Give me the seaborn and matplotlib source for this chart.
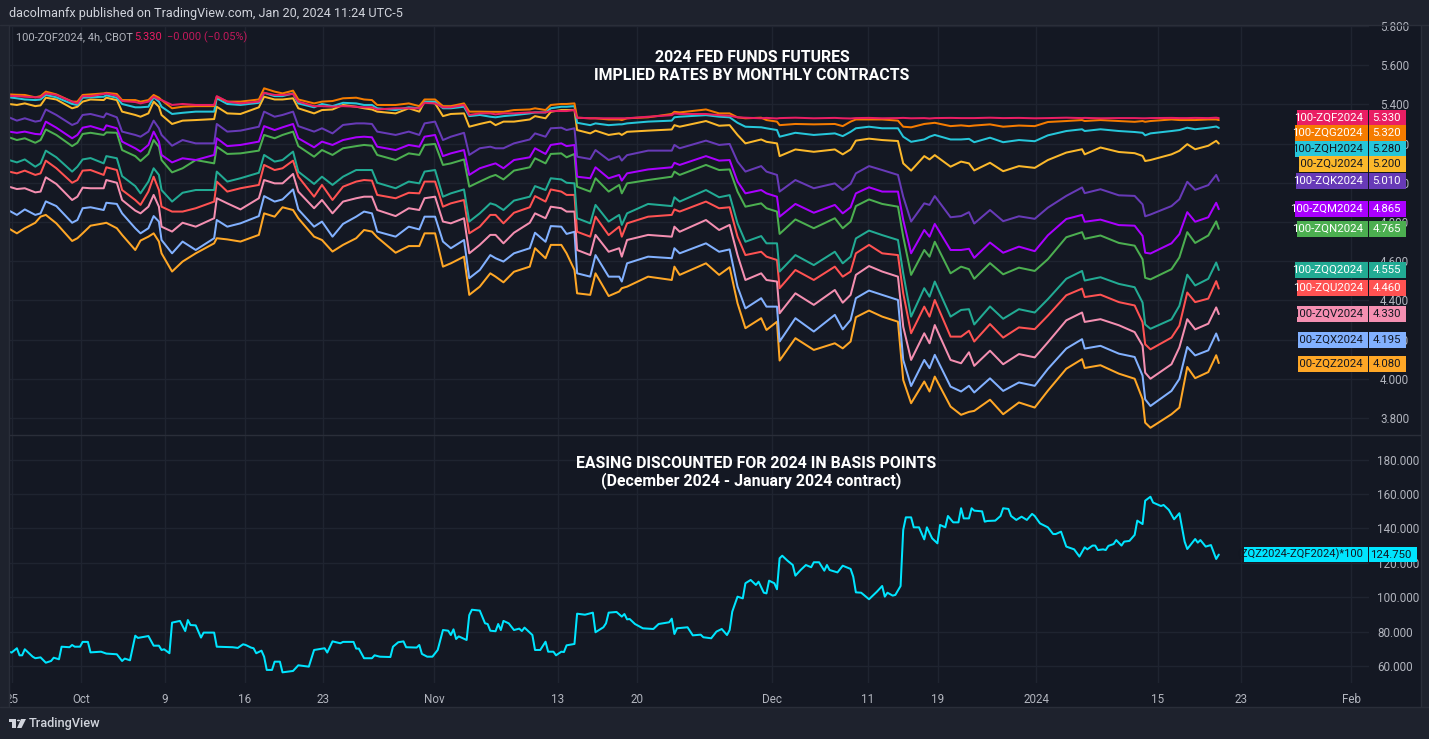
import seaborn as sns
import matplotlib.pyplot as plt
import pandas as pd
from matplotlib.patches import Rectangle, Polygon, Circle
from matplotlib.transforms import Bbox, IdentityTransform, TransformedBbox

# 4h bar number of every reading, bar 0 is the first one on the chart
bars = [0,3,6,10,12,14,18,24,26,28,31,36,37,41,43,48,50,53,55,57,58,62,66,71,78,79,83,88,95,97,101,104,108,110,116,119,123,127,132,135,138,140,147,152,156,158,162,165,168,173,175,179,
        183,185,188,192,198,200,204,206,210,212,215,216,221,223,228,232,233,235,243,252,253,255,265,270,274,277,280,286,288,292,293,299,306,314,317,320,322,327,332,338,340,343,348,350,352,358,362,
        365,367,373,378,384,390,395,402,408,409,415,422,428,431,432,434,442,445,448,451,456,459,460]

zqf = [5.444,5.442,5.439,5.436,5.436,5.456,5.448,5.414,5.405,5.442,5.442,5.453,5.456,5.444,5.417,5.412,5.405,5.414,5.439,5.425,5.422,5.397,5.402,5.397,5.397,5.442,5.414,5.405,5.414,5.459,5.448,5.448,5.453,5.414,5.391,5.391,5.388,5.391,5.388,5.385,5.385,5.374,5.380,5.380,5.380,5.408,5.405,5.385,5.385,5.397,5.346,5.354,
       5.354,5.349,5.354,5.354,5.359,5.359,5.359,5.366,5.366,5.366,5.371,5.332,5.329,5.329,5.329,5.329,5.329,5.329,5.337,5.345,5.354,5.351,5.351,5.345,5.342,5.334,5.332,5.329,5.331,5.328,5.33,5.332,5.329,5.331,5.329,5.328,5.33,5.331,5.329,5.33,5.331,5.329,5.33,5.328,5.33,5.331,5.33,
       5.33,5.33,5.332,5.33,5.331,5.329,5.33,5.332,5.33,5.331,5.329,5.33,5.33,5.329,5.329,5.33,5.331,5.33,5.33,5.331,5.33,5.332,5.33]
zqg = [5.451,5.449,5.448,5.436,5.442,5.465,5.451,5.414,5.414,5.448,5.451,5.456,5.459,5.453,5.422,5.422,5.414,5.422,5.448,5.434,5.422,5.380,5.388,5.391,5.391,5.439,5.414,5.414,5.425,5.482,5.465,5.456,5.470,5.425,5.405,5.414,5.417,5.431,5.434,5.425,5.422,5.397,5.397,5.405,5.391,5.425,5.425,5.391,5.391,5.405,5.363,5.363,
       5.362,5.362,5.362,5.371,5.374,5.380,5.371,5.397,5.402,5.402,5.405,5.332,5.329,5.329,5.323,5.323,5.320,5.329,5.334,5.351,5.362,5.359,5.374,5.354,5.354,5.334,5.329,5.332,5.320,5.312,5.294,5.300,5.298,5.300,5.289,5.312,5.323,5.323,5.323,5.317,5.286,5.283,5.300,5.303,5.306,5.289,5.293,
       5.289,5.292,5.298,5.286,5.292,5.289,5.31,5.315,5.32,5.315,5.32,5.315,5.311,5.315,5.311,5.315,5.323,5.32,5.32,5.32,5.323,5.323,5.32]
zqh = [5.436,5.431,5.425,5.422,5.425,5.448,5.436,5.402,5.397,5.434,5.436,5.439,5.446,5.434,5.402,5.385,5.385,5.388,5.436,5.414,5.388,5.351,5.357,5.363,5.363,5.431,5.402,5.397,5.408,5.459,5.442,5.442,5.456,5.405,5.385,5.402,5.391,5.408,5.405,5.397,5.397,5.380,5.371,5.385,5.380,5.414,5.414,5.380,5.380,5.388,5.340,5.346,
       5.337,5.334,5.340,5.345,5.354,5.359,5.359,5.380,5.388,5.388,5.391,5.306,5.294,5.303,5.294,5.298,5.298,5.303,5.312,5.317,5.334,5.337,5.345,5.337,5.334,5.306,5.286,5.283,5.278,5.269,5.235,5.255,5.244,5.252,5.238,5.260,5.278,5.286,5.278,5.278,5.235,5.209,5.221,5.235,5.244,5.221,5.221,
       5.224,5.207,5.230,5.207,5.218,5.212,5.242,5.264,5.273,5.264,5.273,5.264,5.259,5.255,5.242,5.252,5.264,5.269,5.281,5.273,5.281,5.287,5.28]
zqj = [5.402,5.397,5.405,5.391,5.395,5.434,5.425,5.380,5.388,5.414,5.425,5.422,5.434,5.422,5.363,5.346,5.337,5.354,5.414,5.388,5.346,5.300,5.317,5.320,5.325,5.388,5.354,5.351,5.385,5.439,5.425,5.425,5.431,5.380,5.354,5.371,5.374,5.397,5.388,5.380,5.374,5.363,5.354,5.380,5.363,5.414,5.405,5.340,5.351,5.354,5.286,5.300,
       5.312,5.294,5.312,5.312,5.323,5.340,5.329,5.362,5.371,5.371,5.371,5.269,5.252,5.266,5.244,5.252,5.244,5.260,5.266,5.272,5.294,5.286,5.315,5.291,5.294,5.244,5.201,5.221,5.209,5.201,5.136,5.170,5.158,5.170,5.145,5.170,5.215,5.225,5.218,5.213,5.099,5.062,5.136,5.119,5.141,5.082,5.108,
       5.099,5.063,5.102,5.059,5.085,5.076,5.116,5.154,5.171,5.145,5.180,5.157,5.151,5.137,5.111,5.116,5.145,5.163,5.197,5.171,5.189,5.214,5.20]
zqk = [5.334,5.317,5.329,5.312,5.317,5.374,5.346,5.295,5.306,5.346,5.351,5.334,5.354,5.334,5.261,5.244,5.235,5.261,5.317,5.278,5.244,5.189,5.218,5.201,5.201,5.300,5.261,5.266,5.286,5.363,5.337,5.346,5.363,5.289,5.261,5.278,5.252,5.295,5.303,5.303,5.300,5.261,5.244,5.261,5.244,5.303,5.312,5.218,5.235,5.255,5.142,5.176,
       5.184,5.176,5.176,5.201,5.221,5.252,5.235,5.278,5.281,5.269,5.278,5.133,5.121,5.167,5.116,5.136,5.113,5.141,5.164,5.164,5.193,5.176,5.215,5.193,5.198,5.108,5.057,5.085,5.057,5.040,4.955,5.014,4.972,4.997,4.963,4.994,5.048,5.085,5.065,5.040,4.929,4.802,4.895,4.887,4.932,4.824,4.830,
       4.850,4.792,4.861,4.804,4.829,4.816,4.873,4.933,4.976,4.947,4.967,4.936,4.933,4.890,4.829,4.838,4.881,4.916,5.005,4.964,4.988,5.040,5.01]
zqm = [5.261,5.255,5.261,5.249,5.247,5.312,5.281,5.227,5.244,5.281,5.289,5.269,5.293,5.278,5.210,5.176,5.159,5.193,5.261,5.210,5.142,5.104,5.125,5.116,5.142,5.227,5.187,5.193,5.210,5.289,5.269,5.283,5.300,5.227,5.181,5.210,5.193,5.218,5.232,5.235,5.232,5.184,5.167,5.193,5.184,5.235,5.244,5.136,5.150,5.167,5.040,5.074,
       5.091,5.099,5.074,5.116,5.130,5.176,5.147,5.193,5.201,5.187,5.193,5.031,5.023,5.079,5.023,5.040,5.011,5.048,5.068,5.079,5.102,5.091,5.136,5.113,5.116,5.006,4.946,4.963,4.946,4.929,4.827,4.892,4.847,4.887,4.844,4.875,4.946,4.977,4.955,4.955,4.810,4.640,4.759,4.725,4.790,4.657,4.657,
       4.663,4.617,4.695,4.643,4.674,4.651,4.732,4.815,4.836,4.801,4.812,4.784,4.781,4.729,4.643,4.639,4.691,4.738,4.850,4.801,4.824,4.898,4.865]
zqn = [5.232,5.218,5.227,5.204,5.218,5.272,5.244,5.187,5.204,5.249,5.255,5.244,5.257,5.255,5.167,5.136,5.111,5.147,5.218,5.184,5.116,5.053,5.074,5.116,5.099,5.184,5.147,5.150,5.164,5.244,5.227,5.244,5.261,5.187,5.133,5.167,5.142,5.176,5.187,5.193,5.189,5.142,5.116,5.150,5.142,5.193,5.198,5.091,5.099,5.119,4.980,5.006,
       5.031,5.040,5.017,5.062,5.079,5.125,5.099,5.147,5.150,5.130,5.147,4.980,4.955,5.023,4.955,4.989,4.946,4.997,5.014,5.031,5.057,5.040,5.091,5.065,5.068,4.955,4.878,4.895,4.870,4.853,4.739,4.813,4.768,4.819,4.768,4.802,4.881,4.915,4.892,4.878,4.725,4.530,4.657,4.623,4.699,4.538,4.572,
       4.559,4.510,4.590,4.533,4.567,4.550,4.610,4.722,4.748,4.714,4.731,4.693,4.679,4.610,4.515,4.507,4.559,4.619,4.748,4.693,4.731,4.803,4.765]
zqq = [5.116,5.104,5.119,5.082,5.099,5.164,5.130,5.057,5.082,5.119,5.126,5.099,5.136,5.125,5.034,4.983,4.946,5.006,5.074,5.040,4.963,4.904,4.949,4.963,4.963,5.057,5.006,5.023,5.051,5.142,5.108,5.116,5.159,5.057,4.994,5.031,4.989,5.031,5.065,5.065,5.065,5.000,4.972,5.006,4.997,5.057,5.065,4.929,4.946,4.966,4.802,4.844,
       4.895,4.887,4.861,4.909,4.929,4.983,4.963,5.023,5.017,5.000,4.997,4.819,4.793,4.887,4.802,4.836,4.785,4.844,4.892,4.881,4.926,4.904,4.963,4.926,4.937,4.793,4.699,4.728,4.691,4.691,4.547,4.631,4.580,4.648,4.589,4.623,4.716,4.756,4.733,4.708,4.538,4.317,4.462,4.419,4.496,4.317,4.351,
       4.355,4.277,4.369,4.306,4.355,4.338,4.406,4.510,4.550,4.501,4.518,4.484,4.467,4.389,4.277,4.255,4.303,4.372,4.531,4.476,4.510,4.593,4.555]
zqu = [5.057,5.048,5.062,5.040,5.048,5.113,5.074,5.000,5.014,5.062,5.065,5.040,5.079,5.065,4.963,4.912,4.887,4.955,5.031,4.963,4.878,4.853,4.853,4.870,4.904,5.006,4.955,4.972,4.989,5.091,5.065,5.074,5.113,5.031,4.929,4.989,4.912,4.980,5.006,5.014,5.011,4.938,4.921,4.949,4.946,5.006,5.006,4.878,4.895,4.912,4.742,4.776,
       4.836,4.836,4.793,4.847,4.875,4.932,4.904,4.966,4.955,4.938,4.938,4.750,4.725,4.827,4.733,4.776,4.725,4.793,4.827,4.836,4.864,4.853,4.904,4.870,4.875,4.725,4.631,4.648,4.623,4.606,4.462,4.555,4.504,4.572,4.521,4.547,4.640,4.683,4.640,4.631,4.436,4.232,4.368,4.317,4.402,4.215,4.215,
       4.245,4.190,4.279,4.210,4.262,4.253,4.322,4.426,4.460,4.417,4.429,4.391,4.374,4.288,4.176,4.150,4.210,4.271,4.440,4.391,4.409,4.498,4.46]
zqv = [4.980,4.968,4.972,4.951,4.955,5.028,4.994,4.912,4.929,4.975,4.972,4.972,5.014,5.000,4.912,4.858,4.844,4.878,4.938,4.878,4.776,4.751,4.796,4.776,4.819,4.921,4.895,4.864,4.921,5.014,4.997,4.997,5.045,4.955,4.870,4.912,4.844,4.904,4.921,4.929,4.929,4.861,4.830,4.870,4.861,4.921,4.929,4.802,4.793,4.819,4.640,4.683,
       4.734,4.734,4.691,4.745,4.796,4.844,4.819,4.878,4.870,4.853,4.853,4.657,4.631,4.734,4.648,4.666,4.623,4.708,4.734,4.725,4.776,4.750,4.810,4.759,4.785,4.631,4.504,4.538,4.504,4.496,4.334,4.436,4.377,4.453,4.388,4.428,4.530,4.575,4.547,4.521,4.266,4.096,4.232,4.181,4.274,4.096,4.079,
       4.135,4.066,4.143,4.074,4.126,4.109,4.186,4.298,4.338,4.290,4.304,4.273,4.238,4.169,4.031,4.000,4.074,4.160,4.304,4.252,4.281,4.364,4.33]
zqx = [4.858,4.836,4.864,4.836,4.844,4.905,4.881,4.796,4.810,4.870,4.875,4.861,4.898,4.892,4.844,4.768,4.742,4.768,4.830,4.802,4.708,4.640,4.700,4.657,4.717,4.810,4.776,4.793,4.830,4.932,4.904,4.915,4.966,4.864,4.776,4.802,4.725,4.790,4.827,4.853,4.844,4.751,4.725,4.776,4.762,4.827,4.827,4.700,4.666,4.708,4.513,4.555,
       4.631,4.615,4.598,4.640,4.666,4.745,4.699,4.779,4.776,4.739,4.750,4.538,4.521,4.631,4.521,4.521,4.496,4.589,4.623,4.615,4.666,4.640,4.691,4.648,4.660,4.470,4.359,4.411,4.368,4.368,4.190,4.309,4.241,4.326,4.252,4.300,4.411,4.450,4.428,4.402,4.096,3.963,4.096,4.054,4.122,3.960,3.935,
       3.964,3.930,4.002,3.938,3.981,3.964,4.050,4.154,4.202,4.154,4.168,4.128,4.111,4.016,3.895,3.861,3.938,3.999,4.162,4.119,4.145,4.231,4.195]
zqz = [4.766,4.742,4.768,4.796,4.827,4.836,4.793,4.703,4.717,4.742,4.781,4.793,4.796,4.768,4.734,4.657,4.705,4.725,4.742,4.700,4.640,4.547,4.598,4.640,4.691,4.717,4.711,4.700,4.734,4.844,4.827,4.875,4.861,4.819,4.725,4.708,4.649,4.683,4.717,4.759,4.751,4.722,4.643,4.677,4.677,4.742,4.742,4.572,4.589,4.623,4.428,4.470,
       4.538,4.521,4.492,4.546,4.572,4.666,4.615,4.683,4.683,4.640,4.555,4.436,4.428,4.538,4.422,4.445,4.462,4.470,4.521,4.504,4.572,4.530,4.589,4.530,4.569,4.385,4.258,4.309,4.249,4.291,4.093,4.207,4.147,4.181,4.155,4.190,4.314,4.348,4.317,4.291,3.994,3.875,3.986,3.935,4.011,3.858,3.816,
       3.831,3.836,3.893,3.819,3.879,3.853,3.939,4.051,4.100,4.055,4.069,4.026,4.000,3.896,3.776,3.750,3.819,3.853,4.060,4.003,4.034,4.120,4.08]

spread_bars = [0,1,3,4,5,6,9,10,12,14,16,17,19,20,23,24,25,27,28,30,31,35,37,41,43,44,46,48,49,53,55,57,58,59,61,62,65,67,68,69,71,73,74,78,79,85,87,89,90,92,93,94,96,97,98,100,101,103,104,108,110,114,116,120,121,123,126,127,131,132,133,135,138,139,141,145,146,148,150,151,155,156,157,159,161,163,165,167,168,169,170,171,174,175,176,179,181,182,183,185,186,187,188,190,192,194,195,196,199,200,202,204,205,207,208,210,211,212,215,216,219,222,223,226,227,228,231,233,234,235,236,238,241,245,247,251,252,253,254,258,260,263,
               264,267,269,271,273,274,275,277,279,280,282,284,285,287,288,289,291,292,293,294,296,298,299,301,303,305,306,308,310,311,312,315,317,320,321,322,324,327,330,332,333,334,336,337,339,340,341,343,344,346,348,349,351,353,354,356,357,359,361,362,363,365,366,367,370,371,372,375,377,378,380,381,383,385,387,389,390,392,395,397,398,400,402,405,407,409,410,412,413,414,416,417,418,420,421,423,424,426,428,429,431,432,434,435,438,439,441,443,445,447,448,451,452,453,455,457,459,460]
spread_vals = [68.3,67.8,70.3,66.2,66.2,69.7,65.4,64.5,65.0,61.9,62.9,64.8,63.9,71.2,70.9,72.2,71.2,71.2,74.0,74.0,67.9,68.3,67.2,66.8,62.9,64.3,63.3,77.6,76.3,77.4,71.8,71.8,69.3,69.7,67.4,85.2,86.2,80.3,86.7,83.8,83.6,76.5,79.4,79.4,71.2,70.9,70.5,72.6,72.2,70.7,70.3,67.4,68.9,65.4,57.7,57.7,62.5,62.5,56.3,57.1,60.4,59.6,69.3,70.3,67.8,74.3,73.2,74.0,74.0,70.1,70.1,64.5,64.5,66.2,65.4,65.2,71.2,73.8,74.3,70.9,70.7,72.2,67.0,65.4,65.4,69.3,80.9,80.5,78.0,81.3,75.7,77.2,75.1,89.6,92.7,92.2,84.8,84.4,80.5,80.2,84.4,80.9,86.2,84.8,80.9,81.7,80.3,82.3,78.0,69.3,69.3,74.1,68.3,68.3,66.2,68.3,68.1,72.0,72.8,90.4,89.8,91.0,79.6,82.5,84.8,91.0,91.4,88.7,90.2,87.1,87.3,84.4,81.9,81.5,84.4,85.4,87.5,78.6,81.9,82.5,77.8,78.2,
               76.7,76.1,80.0,81.5,78.0,80.9,91.6,100.3,99.3,108.1,110.0,107.1,109.0,102.6,102.2,109.6,108.1,104.6,122.6,124.1,121.2,118.7,112.5,115.8,118.7,117.4,120.3,120.3,115.4,118.7,115.8,114.4,118.3,116.4,111.9,102.8,102.6,98.8,103.2,106.5,100.3,102.6,100.9,101.3,106.5,139.1,146.4,146.4,140.6,140.6,133.6,140.6,134.2,131.3,142.0,140.6,147.2,143.5,143.5,151.7,145.8,145.8,151.7,150.3,149.9,143.9,144.3,144.5,147.2,151.7,151.3,147.2,144.9,146.8,144.9,148.4,147.2,142.9,140.6,136.7,136.7,138.1,129.4,127.8,123.6,129.0,127.8,130.0,130.0,127.4,127.8,127.4,129.8,130.9,133.2,130.0,132.3,132.7,136.2,144.5,142.5,156.1,158.4,155.0,153.0,153.6,150.7,145.3,148.8,132.3,128.0,133.8,131.7,133.2,129.4,130.3,122.2,124.75]

contracts = ["100-ZQF2024","100-ZQG2024","100-ZQH2024","100-ZQJ2024","100-ZQK2024","100-ZQM2024",
             "100-ZQN2024","100-ZQQ2024","100-ZQU2024","100-ZQV2024","100-ZQX2024","100-ZQZ2024"]
last_prices = ["5.330","5.320","5.280","5.200","5.010","4.865","4.765","4.555","4.460","4.330","4.195","4.080"]
rate_ticks = [3.8,4.0,4.2,4.4,4.6,4.8,5.0,5.2,5.4,5.6,5.8]
spread_ticks = [60,80,100,120,140,160,180]
time_ticks = [1,27.4,59.3,89.7,119.4,161.6,208.7,238.8,290.2,326.6,353.2,390.5,436.8,468.4,510.3]
time_labels = ["25","Oct","9","16","23","Nov","13","20","Dec","11","19","2024","15","23","Feb"]

colors = ["#E91E63","#F57C00","#26C6DA","#FBB82B","#673AB7","#AA00FF",
          "#4CAF50","#22AB94","#FF5252","#F48FB1","#82B1FF","#FFA726"]
label_ys = [118,133,149,164,181,209,229,270,288,314,340,364]
label_lefts = [1297,1295,1295,1299,1296,1295,1297,1295,1297,1297,1298,1298]
label_text = ["w","w","k","k","w","w","w","w","w","k","k","k"]

W, H = 1429, 739
OUTER, INNER, LINE, GRID, TXT = "#1E222D", "#141823", "#2A2E39", "#1F2430", "#B2B5BE"
DARK = "#131722"

sns.set_theme(style="dark")
plt.rcParams['font.family'] = ['Roboto', 'DejaVu Sans']

def fx(x): return x / W
def fy(y): return 1 - y / H

def pane(left, top, right, bottom):
    return [fx(left), fy(bottom), fx(right - left), (bottom - top) / H]

def box(x0, y0, x1, y1, color, z=5):
    fig.add_artist(Rectangle((fx(x0), fy(y1)), fx(x1 - x0), (y1 - y0) / H, transform=fig.transFigure,
                             facecolor=color, edgecolor="none", zorder=z))

def rule(x0, y0, x1, y1):
    fig.add_artist(plt.Line2D([fx(x0), fx(x1)], [fy(y0), fy(y1)], color=LINE, lw=1, zorder=2))

fig = plt.figure(figsize=(W / 100, H / 100), dpi=100, facecolor=OUTER)
box(9, 25, 1421, 707, INNER, z=-1)

axTop = fig.add_axes(pane(9, 25, 1369, 435))
axBot = fig.add_axes(pane(9, 436, 1369, 683))

dfRates = pd.DataFrame(dict(zip(contracts, [zqf,zqg,zqh,zqj,zqk,zqm,zqn,zqq,zqu,zqv,zqx,zqz])))
dfRates["bar"] = bars
dfSpread = pd.DataFrame({"bar": spread_bars, "bps": spread_vals})

# last contract first, so the front month ends up on top
for name, color in reversed(list(zip(contracts, colors))):
    sns.lineplot(data=dfRates, x="bar", y=name, ax=axTop, color=color, linewidth=1.45,
                 estimator=None, legend=False)
sns.lineplot(data=dfSpread, x="bar", y="bps", ax=axBot, color="#00E5FF", linewidth=1.45,
             estimator=None, legend=False)

for ax in (axTop, axBot):
    ax.patch.set_alpha(0)
    ax.set_xlim(0, 517.1)
    ax.set_xlabel("")
    ax.set_ylabel("")
    ax.set_xticks(time_ticks)
    ax.grid(True, color=GRID, lw=1)
    ax.set_axisbelow(True)
    ax.yaxis.tick_right()
    ax.tick_params(axis="both", length=0, colors=TXT, labelsize=8.4)
    for s in ax.spines.values():
        s.set_visible(False)

axTop.set_ylim(3.713, 5.805)
axTop.set_yticks(rate_ticks)
axTop.set_yticklabels([f"{v:.3f}" for v in rate_ticks])
axTop.tick_params(axis="x", labelbottom=False)
axTop.tick_params(axis="y", pad=8)

axBot.set_ylim(50.1, 193.7)
axBot.set_yticks(spread_ticks)
axBot.set_yticklabels([f"{v:.3f}" for v in spread_ticks])
axBot.set_xticklabels(time_labels)
axBot.tick_params(axis="y", pad=6)
axBot.tick_params(axis="x", pad=7)
# first date label is cut by the pane edge
clip = TransformedBbox(Bbox([[9, 0], [W, H]]), IdentityTransform())
for lab in axBot.get_xticklabels():
    lab.set_clip_box(clip)
    lab.set_clip_on(True)

rule(0, 25, W, 25)
rule(9, 435, 1421, 435)
rule(0, 707, W, 707)
rule(9, 25, 9, 707)
rule(1421, 25, 1421, 707)

# header and legend line
fig.text(fx(9), fy(13), "dacolmanfx published on TradingView.com, Jan 20, 2024 11:24 UTC-5",
         color="#D1D4DC", fontsize=9.1, va="center")
fig.text(fx(16), fy(37), "100-ZQF2024, 4h, CBOT", color=TXT, fontsize=7.9, va="center")
fig.text(fx(134), fy(37), "5.330", color="#E91E63", fontsize=7.9, va="center")
fig.text(fx(167), fy(37), "\u22120.000 (\u22120.05%)", color="#C2185B", fontsize=7.9, va="center")

# chart titles
title_kw = dict(color="white", fontsize=11.4, fontweight="bold", ha="center", va="center", zorder=6)
fig.text(fx(752), fy(58), "2024 FED FUNDS FUTURES", **title_kw)
fig.text(fx(752), fy(76), "IMPLIED RATES BY MONTHLY CONTRACTS", **title_kw)
fig.text(fx(756), fy(463), "EASING DISCOUNTED FOR 2024 IN BASIS POINTS", **title_kw)
fig.text(fx(751), fy(481), "(December 2024 - January 2024 contract)", **title_kw)

# price labels on the right
for name, price, color, yc, left, tc in zip(contracts, last_prices, colors, label_ys, label_lefts, label_text):
    tcol = "white" if tc == "w" else DARK
    box(left, yc - 8, 1406, yc + 8, color)
    box(1368, yc - 8, 1368.6, yc + 8, DARK, z=6)
    fig.text(fx(1363), fy(yc), name, color=tcol, fontsize=8.2, ha="right", va="center", zorder=7)
    fig.text(fx(1401), fy(yc), price, color=tcol, fontsize=8.2, ha="right", va="center", zorder=7)

box(1244, 547, 1417, 562, "#00E5FF")
box(1368, 547, 1368.6, 562, DARK, z=6)
fig.text(fx(1363), fy(554), "(ZQZ2024-ZQF2024)*100", color=DARK, fontsize=8, ha="right", va="center", zorder=7)
fig.text(fx(1411), fy(554.5), "124.750", color=DARK, fontsize=8.2, ha="right", va="center", zorder=7)

# TradingView mark
mark = "#D1D4DC"
fig.add_artist(Polygon([(fx(9), fy(719)), (fx(16), fy(719)), (fx(16), fy(728)), (fx(12), fy(728)), (fx(12), fy(722)), (fx(9), fy(722))],
                       transform=fig.transFigure, facecolor=mark, edgecolor="none", zorder=6))
fig.add_artist(Polygon([(fx(21), fy(719)), (fx(26), fy(719)), (fx(21.5), fy(728)), (fx(17), fy(728))],
                       transform=fig.transFigure, facecolor=mark, edgecolor="none", zorder=6))
fig.add_artist(Circle((fx(18.5), fy(720.5)), 1.6 / W, transform=fig.transFigure, facecolor=mark, edgecolor="none", zorder=6))
fig.text(fx(29), fy(724), "TradingView", color=mark, fontsize=9.2, va="center", fontweight="medium")

plt.savefig("out.png", dpi=100, facecolor=OUTER)
